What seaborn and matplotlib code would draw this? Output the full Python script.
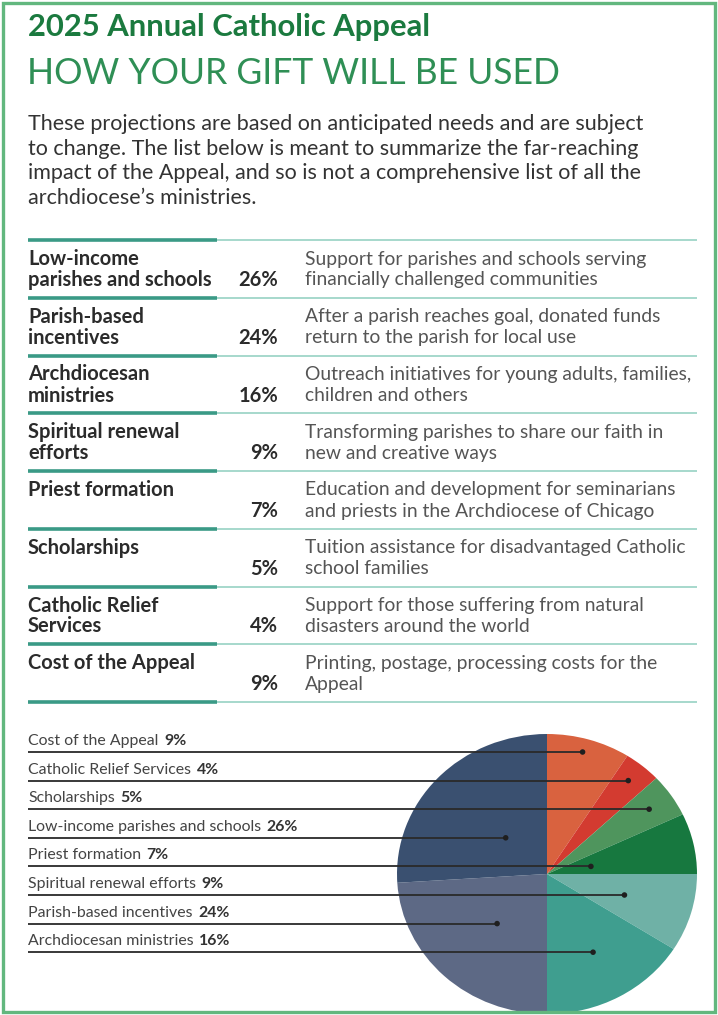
import numpy as np
import seaborn as sns
import matplotlib.pyplot as plt
from matplotlib.patches import Rectangle

# ---------------------------------------------------------------
# Data
# ---------------------------------------------------------------
title = "2025 Annual Catholic Appeal"
subtitle = "HOW YOUR GIFT WILL BE USED"
intro_lines = [
    "These projections are based on anticipated needs and are subject",
    "to change. The list below is meant to summarize the far-reaching",
    "impact of the Appeal, and so is not a comprehensive list of all the",
    "archdiocese\u2019s ministries.",
]

row_labels = [
    ["Low-income", "parishes and schools"],
    ["Parish-based", "incentives"],
    ["Archdiocesan", "ministries"],
    ["Spiritual renewal", "efforts"],
    ["Priest formation"],
    ["Scholarships"],
    ["Catholic Relief", "Services"],
    ["Cost of the Appeal"],
]
row_pcts = [26, 24, 16, 9, 7, 5, 4, 9]
row_desc = [
    ["Support for parishes and schools serving", "financially challenged communities"],
    ["After a parish reaches goal, donated funds", "return to the parish for local use"],
    ["Outreach initiatives for young adults, families,", "children and others"],
    ["Transforming parishes to share our faith in", "new and creative ways"],
    ["Education and development for seminarians", "and priests in the Archdiocese of Chicago"],
    ["Tuition assistance for disadvantaged Catholic", "school families"],
    ["Support for those suffering from natural", "disasters around the world"],
    ["Printing, postage, processing costs for the", "Appeal"],
]

# pie slices, clockwise from 12 o'clock
pie_names = [
    "Cost of the Appeal",
    "Catholic Relief Services",
    "Scholarships",
    "Priest formation",
    "Spiritual renewal efforts",
    "Archdiocesan ministries",
    "Parish-based incentives",
    "Low-income parishes and schools",
]
pie_values = [9, 4, 5, 7, 9, 16, 24, 26]

# order of the labels next to the pie, top to bottom
legend_order = [
    "Cost of the Appeal",
    "Catholic Relief Services",
    "Scholarships",
    "Low-income parishes and schools",
    "Priest formation",
    "Spiritual renewal efforts",
    "Parish-based incentives",
    "Archdiocesan ministries",
]

# ---------------------------------------------------------------
# Style
# ---------------------------------------------------------------
slice_colors = ["#d9623f", "#d33b30", "#4f955d", "#17783f",
                "#6fb1a6", "#3f9e8f", "#5d6985", "#3a5070"]
DARK_GREEN = "#1b7a3f"
LIGHT_GREEN = "#2f8f55"
FRAME = "#62b77e"
TEXT = "#2b2b2b"
GREY = "#555555"

sns.set_theme(style="white")
plt.rcParams["font.family"] = ["Lato", "DejaVu Sans"]

W, H = 718, 1015
LEFT = 28
fig = plt.figure(figsize=(W / 100, H / 100), dpi=100)

# pie axes (slightly elliptical like the original)
cx, cy, rx, ry = 547, 874, 150, 140
pax = fig.add_axes([(cx - rx) / W, 1 - (cy + ry) / H, 2 * rx / W, 2 * ry / H])
wedges, _ = pax.pie(pie_values, colors=slice_colors, startangle=90,
                    counterclock=False, wedgeprops=dict(linewidth=0))
pax.set_aspect("auto")
pax.set_xlim(-1, 1)
pax.set_ylim(-1, 1)

# overlay axes in pixel units
ax = fig.add_axes([0, 0, 1, 1])
ax.set_zorder(3)
ax.set_xlim(0, W)
ax.set_ylim(H, 0)
ax.axis("off")

# ---------------------------------------------------------------
# Header
# ---------------------------------------------------------------
ax.text(LEFT, 27, title, fontsize=22.3, fontweight="bold", color=DARK_GREEN,
        va="center", ha="left")
ax.text(LEFT - 1, 73, subtitle, fontsize=25.6, fontweight="normal",
        color=LIGHT_GREEN, va="center", ha="left")
for i, line in enumerate(intro_lines):
    ax.text(LEFT, 124 + i * 24.7, line, fontsize=15.5, color="#333333",
            va="center", ha="left")

# ---------------------------------------------------------------
# Table
# ---------------------------------------------------------------
top0, row_h = 240, 57.75
for i in range(len(row_labels) + 1):
    y = top0 + i * row_h
    ax.plot([LEFT, 217], [y, y], color="#3a9a86", lw=2.6, solid_capstyle="butt")
    ax.plot([217, 697], [y, y], color="#9fd6c8", lw=1.3, solid_capstyle="butt")

for i, (lab, pct, desc) in enumerate(zip(row_labels, row_pcts, row_desc)):
    y = top0 + i * row_h
    for j, line in enumerate(lab):
        ax.text(LEFT, y + 19 + j * 21, line, fontsize=14.5, fontweight="bold",
                color=TEXT, va="center", ha="left")
    ax.text(278, y + 40, f"{pct}%", fontsize=14.5, fontweight="bold",
            color=TEXT, va="center", ha="right")
    for j, line in enumerate(desc):
        ax.text(305, y + 19 + j * 21, line, fontsize=13.9, color=GREY,
                va="center", ha="left")

# ---------------------------------------------------------------
# Pie labels with leader lines
# ---------------------------------------------------------------
line_y0, line_step = 752, 28.6
to_pie = pax.transData.inverted()
dot_x, dot_y = [], []
for k, name in enumerate(legend_order):
    yl = line_y0 + k * line_step
    w = wedges[pie_names.index(name)]
    mid = np.deg2rad((w.theta1 + w.theta2) / 2)
    py = to_pie.transform(ax.transData.transform((0, yl)))[1]
    r = py / np.sin(mid) if abs(np.sin(mid)) > 1e-6 else 0.6
    r = float(np.clip(r, 0.3, 0.85))
    px = r * np.cos(mid)
    xl = ax.transData.inverted().transform(pax.transData.transform((px, py)))[0]
    dot_x.append(xl)
    dot_y.append(yl)

    ax.plot([LEFT, xl], [yl, yl], color="#2a2a2a", lw=1.3, solid_capstyle="butt")
    t = ax.text(LEFT, yl - 4, name, fontsize=11.4, color="#444444",
                va="bottom", ha="left")
    ax.annotate(f"{pie_values[pie_names.index(name)]}%", xy=(1, 0),
                xycoords=t, xytext=(4, 0), textcoords="offset points",
                fontsize=11.4, fontweight="bold", color="#333333",
                va="bottom", ha="left")

sns.scatterplot(x=dot_x, y=dot_y, ax=ax, color="#1f1f1f", s=16,
                edgecolor="none", zorder=5, legend=False)
ax.set_xlim(0, W)
ax.set_ylim(H, 0)
ax.axis("off")

# frame
ax.add_patch(Rectangle((3, 2.5), 712, 1009.5, fill=False, edgecolor=FRAME,
                       lw=2.4, clip_on=False, zorder=6))

fig.savefig("out.png", dpi=100)
